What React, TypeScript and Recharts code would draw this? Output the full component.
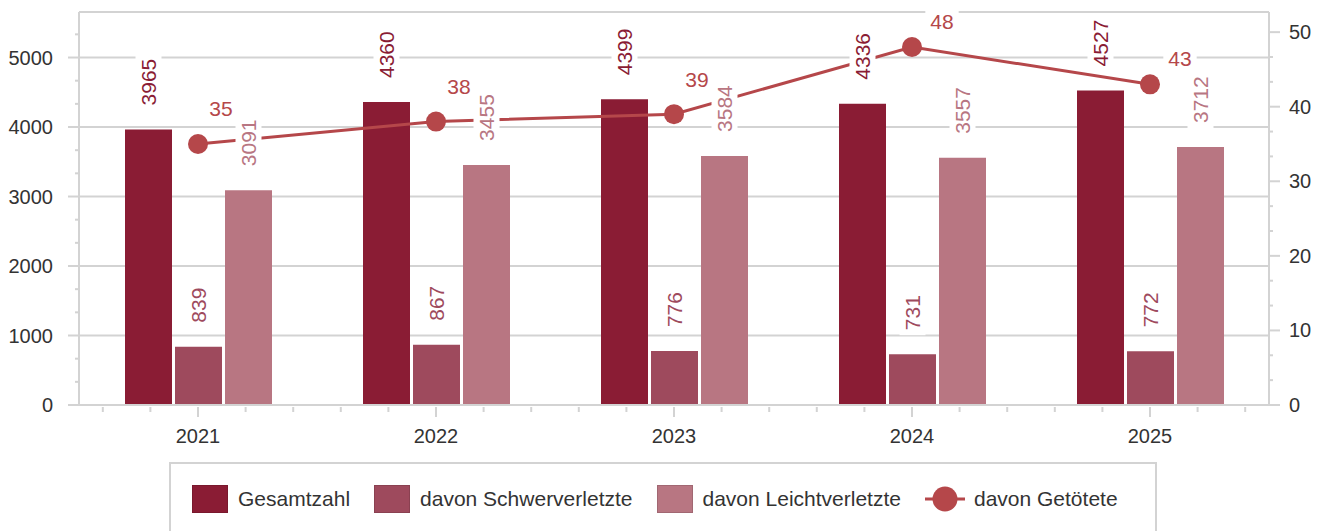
import React from 'react';
import { ComposedChart, Bar, Line, XAxis, YAxis, CartesianGrid, Legend, LabelList } from 'recharts';

// ---- data ----
const years = ['2021', '2022', '2023', '2024', '2025'];
const gesamtzahl = [3965, 4360, 4399, 4336, 4527];
const schwerverletzte = [839, 867, 776, 731, 772];
const leichtverletzte = [3091, 3455, 3584, 3557, 3712];
const getoetete = [35, 38, 39, 48, 43];
const leftTicks = [0, 1000, 2000, 3000, 4000, 5000];
const rightTicks = [0, 10, 20, 30, 40, 50];
const seriesNames = ['Gesamtzahl', 'davon Schwerverletzte', 'davon Leichtverletzte', 'davon Getötete'];

// ---- layout / style ----
const W = 1317;
const H = 531;
const LEFT_W = 79;
const RIGHT_W = 48;
const TOP = 12;
const LEGEND_H = 80;
const XAXIS_H = 46;
const LEFT_MAX = 5655;
const RIGHT_MAX = 52.7;
const BAND = (W - LEFT_W - RIGHT_W) / years.length;
const FONT = '"Liberation Sans", Arial, Helvetica, sans-serif';
const GRID = '#d3d3d3';
const TEXT = '#333333';
const C_GES = '#8A1C34';
const C_SCH = '#9E4A5D';
const C_LEI = '#B87682';
const C_TOT = '#B5474A';
const seriesColors = [C_GES, C_SCH, C_LEI, C_TOT];

const data = years.map((y, i) => ({
  year: y,
  gesamt: gesamtzahl[i],
  schwer: schwerverletzte[i],
  leicht: leichtverletzte[i],
  tote: getoetete[i],
}));

function withMinor(majors: number[], step: number, max: number) {
  const out: number[] = [];
  majors.forEach((m) => {
    for (let k = 0; k < 3; k++) {
      const v = m + (k * step) / 3;
      if (v <= max + 1e-9) out.push(v);
    }
  });
  return out;
}
const leftAll = withMinor(leftTicks, 1000, LEFT_MAX);
const rightAll = withMinor(rightTicks, 10, RIGHT_MAX);

const LeftTick = (props: any) => {
  const { x, y, payload } = props;
  const v = payload.value;
  const major = leftTicks.some((t) => Math.abs(t - v) < 1e-6);
  return (
    <g>
      <line x1={major ? x - 11 : x - 4} x2={x} y1={y} y2={y} stroke={GRID} strokeWidth={2} />
      {major && (
        <text x={x - 26} y={y} dy={7} textAnchor="end" fill={TEXT} fontSize={20} fontFamily={FONT}>
          {v}
        </text>
      )}
    </g>
  );
};

const RightTick = (props: any) => {
  const { x, y, payload } = props;
  const v = payload.value;
  const major = rightTicks.some((t) => Math.abs(t - v) < 1e-6);
  return (
    <g>
      <line x1={x} x2={major ? x + 11 : x + 4} y1={y} y2={y} stroke={GRID} strokeWidth={2} />
      {major && (
        <text x={x + 20} y={y} dy={7} textAnchor="start" fill={TEXT} fontSize={20} fontFamily={FONT}>
          {v}
        </text>
      )}
    </g>
  );
};

const XTick = (props: any) => {
  const { x, y, payload } = props;
  const minors = [-2, -1, 1, 2].map((k) => x + (k * BAND) / 5);
  return (
    <g>
      <line x1={x} x2={x} y1={y + 2} y2={y + 12} stroke={GRID} strokeWidth={2} />
      {minors.map((mx, i) => (
        <line key={i} x1={mx} x2={mx} y1={y + 2} y2={y + 7} stroke={GRID} strokeWidth={2} />
      ))}
      <text x={x} y={y + 38} textAnchor="middle" fill={TEXT} fontSize={20} fontFamily={FONT}>
        {payload.value}
      </text>
    </g>
  );
};

const makeBarLabel = (color: string) => (props: any) => {
  const { x, y, width, value } = props;
  const cx = Number(x) + Number(width) / 2;
  const top = Number(y);
  const tw = String(value).length * 0.556 * 21;
  return (
    <g transform={`translate(${cx},${top - 24}) rotate(-90)`}>
      <rect x={-5} y={-13} width={tw + 10} height={26} fill="#ffffff" />
      <text x={0} y={0} dy={7.5} textAnchor="start" fill={color} fontSize={21} fontFamily={FONT}>
        {value}
      </text>
    </g>
  );
};

const LineLabel = (props: any) => {
  const { x, y, value, index } = props;
  const next = getoetete[index + 1];
  const rising = next !== undefined && next > value;
  const dx = rising ? 23 : 30;
  const dy = rising ? -35 : -26;
  const tw = String(value).length * 0.556 * 21;
  const cx = Number(x) + dx;
  const cy = Number(y) + dy;
  return (
    <g>
      <rect x={cx - tw / 2 - 5} y={cy - 12} width={tw + 10} height={24} fill="#ffffff" />
      <text x={cx} y={cy} dy={7.5} textAnchor="middle" fill={C_TOT} fontSize={21} fontFamily={FONT}>
        {value}
      </text>
    </g>
  );
};

const renderLegend = () => (
  <div
    style={{
      display: 'flex',
      alignItems: 'center',
      paddingLeft: 21,
      paddingTop: 21,
      fontFamily: FONT,
      fontSize: 21,
      color: TEXT,
      whiteSpace: 'nowrap',
    }}
  >
    {seriesNames.map((name, i) => (
      <div key={name} style={{ display: 'flex', alignItems: 'center', marginRight: 24 }}>
        {i === 3 ? (
          <svg width={40} height={28} style={{ display: 'block' }}>
            <line x1={0} x2={40} y1={14} y2={14} stroke={seriesColors[i]} strokeWidth={3} />
            <circle cx={20} cy={14} r={12.5} fill={seriesColors[i]} />
          </svg>
        ) : (
          <div
            style={{
              width: 36,
              height: 28,
              background: seriesColors[i],
              boxSizing: 'border-box',
              border: '1px solid rgba(0,0,0,0.12)',
            }}
          />
        )}
        <span style={{ marginLeft: i === 3 ? 9 : 10 }}>{name}</span>
      </div>
    ))}
  </div>
);

export default function App() {
  return (
    <div style={{ position: 'absolute', left: 0, top: 0, width: W, height: H, background: '#fff', fontFamily: FONT }}>
      <ComposedChart
        width={W}
        height={H}
        data={data}
        margin={{ top: TOP, right: 0, bottom: 0, left: 0 }}
        barGap={3}
      >
        <CartesianGrid
          yAxisId="left"
          vertical={false}
          horizontalValues={[...leftTicks, LEFT_MAX]}
          stroke={GRID}
          strokeWidth={2}
        />
        <XAxis
          dataKey="year"
          height={XAXIS_H}
          tickLine={false}
          tickSize={0}
          tickMargin={0}
          tick={<XTick />}
          axisLine={{ stroke: GRID, strokeWidth: 2 }}
          interval={0}
        />
        <YAxis
          yAxisId="left"
          width={LEFT_W}
          domain={[0, LEFT_MAX]}
          ticks={leftAll}
          interval={0}
          tickLine={false}
          tickSize={0}
          tickMargin={0}
          tick={<LeftTick />}
          axisLine={{ stroke: GRID, strokeWidth: 2 }}
          allowDataOverflow
        />
        <YAxis
          yAxisId="right"
          orientation="right"
          width={RIGHT_W}
          domain={[0, RIGHT_MAX]}
          ticks={rightAll}
          interval={0}
          tickLine={false}
          tickSize={0}
          tickMargin={0}
          tick={<RightTick />}
          axisLine={{ stroke: GRID, strokeWidth: 2 }}
          allowDataOverflow
        />
        <Bar yAxisId="left" dataKey="gesamt" name={seriesNames[0]} fill={C_GES} barSize={47} isAnimationActive={false}>
          <LabelList dataKey="gesamt" content={makeBarLabel(C_GES)} />
        </Bar>
        <Bar yAxisId="left" dataKey="schwer" name={seriesNames[1]} fill={C_SCH} barSize={47} isAnimationActive={false}>
          <LabelList dataKey="schwer" content={makeBarLabel(C_SCH)} />
        </Bar>
        <Bar yAxisId="left" dataKey="leicht" name={seriesNames[2]} fill={C_LEI} barSize={47} isAnimationActive={false}>
          <LabelList dataKey="leicht" content={makeBarLabel(C_LEI)} />
        </Bar>
        <Line
          yAxisId="right"
          dataKey="tote"
          name={seriesNames[3]}
          stroke={C_TOT}
          strokeWidth={3}
          dot={{ r: 10, fill: C_TOT, stroke: C_TOT, strokeWidth: 0 }}
          activeDot={false}
          isAnimationActive={false}
        >
          <LabelList dataKey="tote" content={LineLabel} />
        </Line>
        <Legend
          verticalAlign="bottom"
          content={renderLegend}
          wrapperStyle={{
            left: 169,
            top: 462,
            width: 988,
            height: LEGEND_H,
            boxSizing: 'border-box',
            border: '2px solid #d3d3d3',
            background: '#fff',
          }}
        />
      </ComposedChart>
    </div>
  );
}
